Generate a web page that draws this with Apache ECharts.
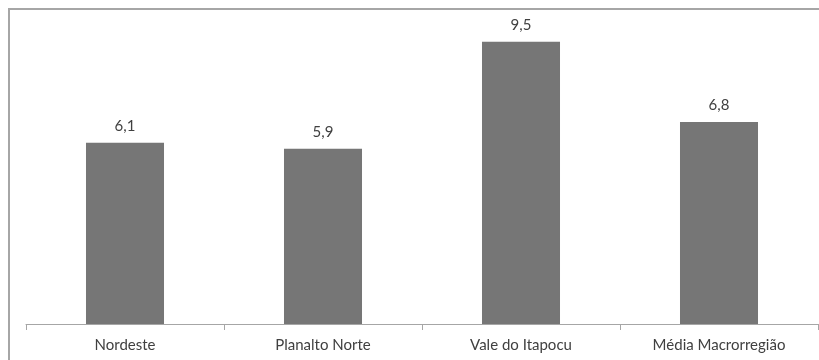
<!DOCTYPE html>
<html>
<head>
<meta charset="utf-8">
<script src="https://cdn.jsdelivr.net/npm/echarts@6/dist/echarts.min.js"></script>
<style>
  html, body { margin: 0; padding: 0; background: #fff; }
  #chart { width: 819px; height: 360px; }
</style>
</head>
<body>
<div id="chart"></div>
<script>
const categories = ['Nordeste', 'Planalto Norte', 'Vale do Itapocu', 'Média Macrorregião'];
const values = [6.1, 5.9, 9.5, 6.8];

const chart = echarts.init(document.getElementById('chart'), null, { renderer: 'canvas' });

chart.setOption({
  animation: false,
  backgroundColor: '#ffffff',
  textStyle: { fontFamily: 'Lato, "Open Sans", sans-serif' },
  graphic: [{
    type: 'rect',
    shape: { x: 9, y: 9, width: 900, height: 400 },
    style: { fill: 'none', stroke: '#a6a6a6', lineWidth: 2 },
    silent: true
  }],
  grid: { left: 26, right: 1, top: 27, bottom: 36, containLabel: false },
  xAxis: {
    type: 'category',
    data: categories,
    boundaryGap: true,
    axisLine: { show: true, lineStyle: { color: '#a6a6a6', width: 1 } },
    axisTick: { show: true, alignWithLabel: false, length: 6, lineStyle: { color: '#a6a6a6' } },
    axisLabel: { color: '#404040', fontSize: 15, margin: 14, fontFamily: 'Lato, "Open Sans", sans-serif' }
  },
  yAxis: {
    type: 'value',
    min: 0,
    max: 10,
    show: false,
    splitLine: { show: false }
  },
  series: [{
    type: 'bar',
    data: values,
    barWidth: '39.4%',
    itemStyle: { color: '#767676' },
    label: {
      show: true,
      position: 'top',
      distance: 9,
      color: '#404040',
      fontSize: 15,
      fontFamily: 'Lato, "Open Sans", sans-serif',
      formatter: p => p.value.toFixed(1).replace('.', ',')
    }
  }]
});
</script>
</body>
</html>
